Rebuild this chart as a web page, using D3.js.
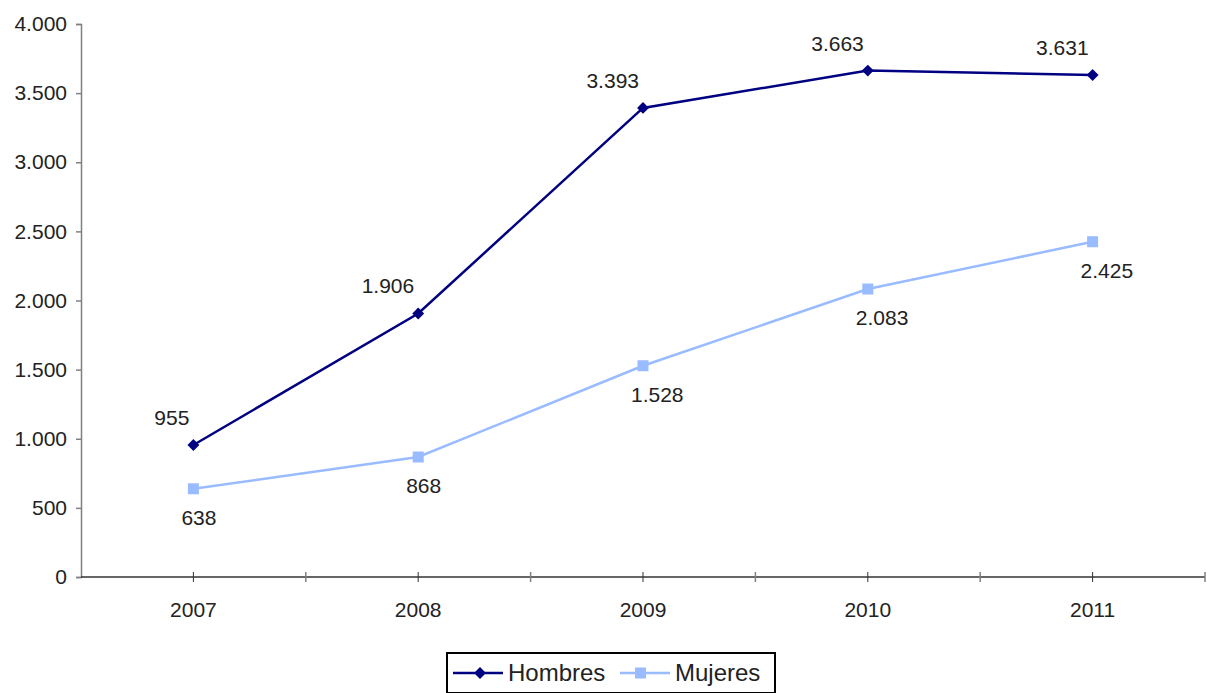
<!DOCTYPE html>
<html>
<head>
<meta charset="utf-8">
<script src="https://cdn.jsdelivr.net/npm/d3@7"></script>
<style>
  body { margin: 0; background: #fff; }
  text { font-family: "Liberation Sans", Arial, sans-serif; fill: #222; }
</style>
</head>
<body>
<svg></svg>
<script>
// Data
const years = ['2007', '2008', '2009', '2010', '2011'];
const hombres = [955, 1906, 3393, 3663, 3631];
const mujeres = [638, 868, 1528, 2083, 2425];
const yTicks = [0, 500, 1000, 1500, 2000, 2500, 3000, 3500, 4000];

let width = 1207, height = 693;
let margin = { top: 24, bottom: 116, left: 81, right: 2 };

let fmt = v => d3.format(',')(v).replace(/,/g, '.');

let svg = d3.select('svg')
    .attr('width', width)
    .attr('height', height);

let xScale = d3.scaleBand()
    .domain(years)
    .range([margin.left, width - margin.right])
    .padding(0);

let yScale = d3.scaleLinear()
    .domain([0, 4000])
    .range([height - margin.bottom, margin.top]);

let cx = d => xScale(d) + xScale.bandwidth() / 2;

// y axis
let yAxis = svg.append('g')
    .attr('transform', `translate(${margin.left}, 0)`)
    .call(d3.axisLeft(yScale).tickValues(yTicks).tickSize(5).tickPadding(9).tickFormat(fmt));
yAxis.select('.domain').attr('stroke', '#808080').attr('stroke-width', 1.5);
yAxis.selectAll('.tick line').attr('stroke', '#808080').attr('stroke-width', 1.5);
yAxis.selectAll('.tick text').style('font-size', '21px').attr('fill', '#222');

// x axis
let y0 = yScale(0);
let xAxis = svg.append('g');
xAxis.append('line')
    .attr('x1', margin.left).attr('x2', width - margin.right)
    .attr('y1', y0).attr('y2', y0)
    .attr('stroke', '#333').attr('stroke-width', 1.5);
let bounds = years.map(d => xScale(d)).concat([width - margin.right]);
xAxis.selectAll('.bt')
    .data(bounds.slice(1))
    .enter().append('line')
    .attr('x1', d => d).attr('x2', d => d)
    .attr('y1', y0 - 5).attr('y2', y0 + 5)
    .attr('stroke', '#808080').attr('stroke-width', 1.5);
xAxis.selectAll('.ct')
    .data(years)
    .enter().append('line')
    .attr('x1', d => cx(d)).attr('x2', d => cx(d))
    .attr('y1', y0 - 5).attr('y2', y0 + 5)
    .attr('stroke', '#333').attr('stroke-width', 1);
xAxis.selectAll('text')
    .data(years)
    .enter().append('text')
    .attr('x', d => cx(d))
    .attr('y', y0 + 40)
    .attr('text-anchor', 'middle')
    .style('font-size', '21px')
    .text(d => d);

let line = d3.line()
    .x((d, i) => cx(years[i]))
    .y(d => yScale(d));

// Mujeres
svg.append('path')
    .datum(mujeres)
    .attr('d', line)
    .attr('fill', 'none')
    .attr('stroke', '#99bbff')
    .attr('stroke-width', 2.5);
svg.selectAll('.mpt')
    .data(mujeres)
    .enter().append('rect')
    .attr('x', (d, i) => cx(years[i]) - 5.5)
    .attr('y', d => yScale(d) - 5.5)
    .attr('width', 11).attr('height', 11)
    .attr('fill', '#99bbff');
svg.selectAll('.mlab')
    .data(mujeres)
    .enter().append('text')
    .attr('x', (d, i) => cx(years[i]) - 12)
    .attr('y', d => yScale(d) + 36)
    .style('font-size', '21px')
    .text(d => fmt(d));

// Hombres
svg.append('path')
    .datum(hombres)
    .attr('d', line)
    .attr('fill', 'none')
    .attr('stroke', '#000080')
    .attr('stroke-width', 2.5);
let diamond = d3.symbol().type(d3.symbolDiamond2).size(90);
svg.selectAll('.hpt')
    .data(hombres)
    .enter().append('path')
    .attr('d', diamond)
    .attr('transform', (d, i) => `translate(${cx(years[i])}, ${yScale(d)})`)
    .attr('fill', '#000080');
svg.selectAll('.hlab')
    .data(hombres)
    .enter().append('text')
    .attr('x', (d, i) => cx(years[i]) - 4)
    .attr('y', d => yScale(d) - 20)
    .attr('text-anchor', 'end')
    .style('font-size', '21px')
    .text(d => fmt(d));

// Legend
let legend = svg.append('g');
legend.append('rect')
    .attr('x', 447).attr('y', 653)
    .attr('width', 328).attr('height', 40)
    .attr('fill', '#fff')
    .attr('stroke', '#000').attr('stroke-width', 2);
let items = [
    { name: 'Hombres', color: '#000080', sym: 'diamond', x: 453 },
    { name: 'Mujeres', color: '#99bbff', sym: 'square', x: 620 }
];
items.forEach(it => {
    let g = legend.append('g').attr('transform', `translate(${it.x}, 673)`);
    g.append('line').attr('x1', 0).attr('x2', 50)
        .attr('stroke', it.color).attr('stroke-width', 2.5);
    if (it.sym === 'diamond') {
        g.append('path').attr('d', diamond).attr('transform', 'translate(27,0)').attr('fill', it.color);
    } else {
        g.append('rect').attr('x', 15).attr('y', -5.5).attr('width', 11).attr('height', 11).attr('fill', it.color);
    }
    g.append('text').attr('x', 55).attr('y', 8)
        .style('font-size', '24px')
        .text(it.name);
});
</script>
</body>
</html>
